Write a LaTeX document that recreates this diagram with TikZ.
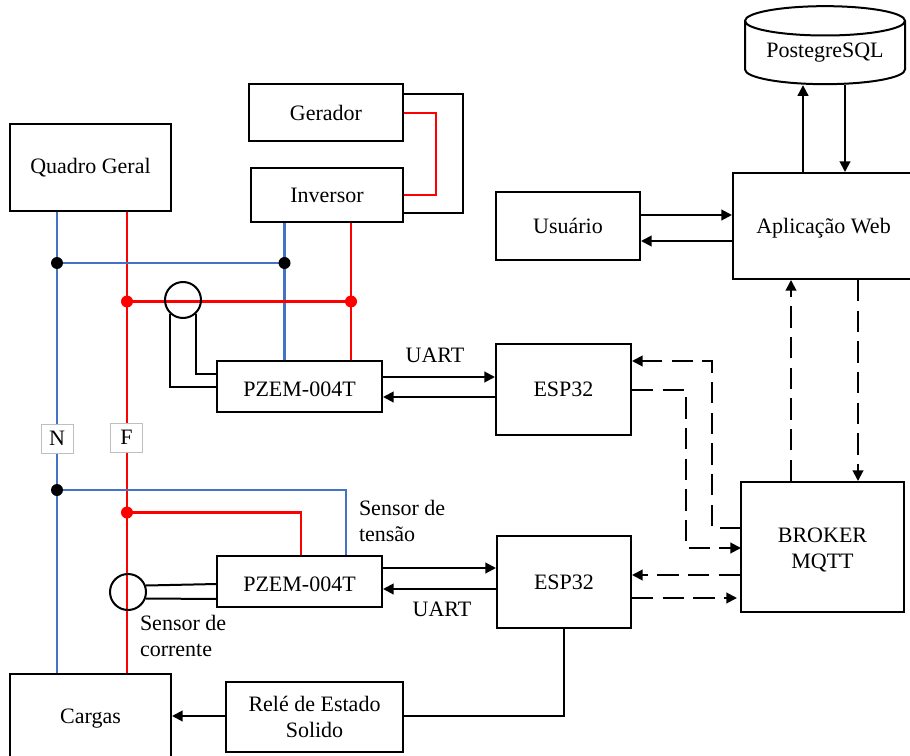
\documentclass[tikz,border=0pt]{standalone}
\usepackage{fontspec}
\setmainfont{Liberation Serif}
\definecolor{fioazul}{HTML}{4472C4}
\definecolor{fiovermelho}{HTML}{FF0000}
\usetikzlibrary{shapes, arrows.meta, calc, positioning, backgrounds}

\begin{document}
\begin{tikzpicture}[x=0.75pt, y=-0.75pt, line width=1.5pt,
    every node/.style={font=\fontsize{16.5}{20}\selectfont, align=center},
    bloco/.style={draw, inner sep=0pt},
    rotulo/.style={draw=black!25, line width=0.6pt, fill=white, inner sep=0pt, minimum width=32*.75pt, minimum height=29*.75pt},
    texto/.style={anchor=west, align=left, inner sep=0pt},
    pontoN/.style={circle, fill=black, inner sep=0pt, minimum size=12*.75pt},
    pontoF/.style={circle, fill=fiovermelho, inner sep=0pt, minimum size=12*.75pt},
    sensor/.style={circle, draw, inner sep=0pt, minimum size=36*.75pt},
    neutro/.style={draw=fioazul, line width=1.8pt},
    fase/.style={draw=fiovermelho, line width=1.6pt},
    seta/.style={-{Triangle[length=8pt, width=8pt]}},
    tracejada/.style={dash pattern=on 16pt off 7pt}]
    \useasboundingbox (0,0) rectangle (910,756);

    % Blocks, left side
    \node[bloco, minimum width=161*.75pt, minimum height=87*.75pt] (quadro) at (90.5,167.5) {Quadro Geral};
    \node[bloco, minimum width=154*.75pt, minimum height=57*.75pt] (gerador) at (326,112.5) {Gerador};
    \node[bloco, minimum width=152*.75pt, minimum height=54*.75pt] (inversor) at (327,195) {Inversor};
    \node[bloco, text height=15pt, minimum width=165*.75pt, minimum height=51*.75pt] (pzemA) at (299.5,386.5) {PZEM-004T};
    \node[bloco, text height=15pt, minimum width=165*.75pt, minimum height=51*.75pt] (pzemB) at (299.5,581.5) {PZEM-004T};
    \node[bloco, minimum width=161*.75pt, minimum height=90*.75pt] (cargas) at (90.5,719) {Cargas};
    \node[bloco, line width=1pt, minimum width=177*.75pt, minimum height=70*.75pt] (rele) at (314.5,717) {Relé de Estado\\Solido};

    % Blocks, right side
    \node[bloco, minimum width=135*.75pt, minimum height=91*.75pt] (espA) at (563.5,389.5) {ESP32};
    \node[bloco, minimum width=134*.75pt, minimum height=92*.75pt] (espB) at (564,582) {ESP32};
    \node[bloco, minimum width=144*.75pt, minimum height=68*.75pt] (usuario) at (568,226) {Usuário};
    \node[bloco, text height=15pt, minimum width=181*.75pt, minimum height=106*.75pt] (app) at (823.5,226) {Aplicação Web};
    \node[bloco, minimum width=163*.75pt, minimum height=130*.75pt] (broker) at (822.5,547) {\rule{0pt}{15.5pt}BROKER\\MQTT};
    \node[draw, shape=cylinder, shape border rotate=90, aspect=0.25, inner sep=0pt,
        minimum width=160*.75pt, minimum height=78*.75pt] (banco) at (825,53) {PostegreSQL};

    % N and F tags
    \node[rotulo] (tagN) at (57,438.5) {N};
    \node[rotulo] (tagF) at (126.5,437.5) {F};

    % Junctions and current sensors
    \node[pontoN] (jnA) at (57,263) {};
    \node[pontoN] (jnB) at (284.5,263) {};
    \node[pontoN] (jnC) at (57,490) {};
    \node[pontoF] (jfA) at (127,301.5) {};
    \node[pontoF] (jfB) at (351,301.5) {};
    \node[pontoF] (jfC) at (127,512.5) {};
    \node[sensor] (ctA) at (183,300) {};
    \node[sensor] (ctB) at (128,592) {};

    % Labels
    \node (uartA) at (435,355) {UART};
    \node (uartB) at (442,609) {UART};
    \node[texto] (tensao) at (358,521) {Sensor de\\tensão};
    \node[texto] (corrente) at (139,636) {Sensor de\\corrente};

    % Free ends of the wires
    \coordinate (pzemAa) at (217,374);
    \coordinate (pzemBa) at (217,584);
    \coordinate (pzemBb) at (217,599);
    \coordinate (cantoT) at (346,490);
    \coordinate (cantoF) at (301,512.5);
    \coordinate (gerF) at (436,113);
    \coordinate (invF) at (436,195);
    \coordinate (gerN) at (463,94);
    \coordinate (invN) at (463,213);
    \coordinate (serialAa) at (440,377);
    \coordinate (serialAb) at (440,397);
    \coordinate (serialBa) at (440,568);
    \coordinate (serialBb) at (440,589);
    \coordinate (retorno) at (564,716);
    \coordinate (bancoA) at (803,130);
    \coordinate (bancoB) at (845,130);
    \coordinate (userA) at (690,215);
    \coordinate (userB) at (690,241);
    \coordinate (mqttA) at (791,380);
    \coordinate (mqttB) at (858,380);
    \coordinate (espAa) at (712,361);
    \coordinate (espAb) at (686,390);
    \coordinate (brokerA) at (741,527.5);
    \coordinate (brokerB) at (741,548);
    \coordinate (espBa) at (690,575);
    \coordinate (espBb) at (690,598);

    \begin{scope}[on background layer={line width=1.5pt}]
        % Phase and neutral
        \draw[fase] (quadro.south -| jfA) -- (cargas.north -| jfA);
        \draw[neutro] (quadro.south -| jnA) -- (cargas.north -| jnA);
        \draw[neutro, line width=1.4pt] (jnA.center) -- (jnB.center);
        \draw[neutro] (inversor.south -| jnB) -- (pzemA.north -| jnB);
        \draw[fase] (inversor.south -| jfB) -- (pzemA.north -| jfB);
        \draw[fase] (jfA.center) -- (jfB.center);
        \draw[neutro, line width=1.4pt] (jnC.center) -- (cantoT) -- (pzemB.north -| cantoT);
        \draw[fase] (jfC.center) -- (cantoF) -- (pzemB.north -| cantoF);

        % Generator and inverter
        \draw[fase] (gerador.east |- gerF) -- (gerF) -- (invF) -- (inversor.east |- invF);
        \draw (gerador.east |- gerN) -- (gerN) -- (invN) -- (inversor.east |- invN);

        % Current sensor leads
        \draw (ctA.228) |- (pzemA.west);
        \draw (ctA.-48) |- (pzemAa);
        \draw (ctB.20) -- (pzemBa);
        \draw (ctB.-20) -- (pzemBb);
    \end{scope}

    % Serial links
    \draw[seta] (pzemA.east |- serialAa) -- (espA.west |- serialAa);
    \draw[seta] (espA.west |- serialAb) -- (pzemA.east |- serialAb);
    \draw[seta] (pzemB.east |- serialBa) -- (espB.west |- serialBa);
    \draw[seta] (espB.west |- serialBb) -- (pzemB.east |- serialBb);

    % Relay
    \draw (espB.south -| retorno) -- (retorno) -- (rele.east |- retorno);
    \draw[seta] (rele.west |- retorno) -- (cargas.east |- retorno);

    % Web application
    \draw[seta] (app.north -| bancoA) -- (banco.south -| bancoA);
    \draw[seta] (banco.south -| bancoB) -- (app.north -| bancoB);
    \draw[seta] (usuario.east |- userA) -- (app.west |- userA);
    \draw[seta] (app.west |- userB) -- (usuario.east |- userB);

    % MQTT
    \draw[seta, tracejada] (broker.north -| mqttA) -- (app.south -| mqttA);
    \draw[seta, tracejada] (app.south -| mqttB) -- (broker.north -| mqttB);
    \draw[seta, tracejada] (brokerA) -- (brokerA -| espAa) -- (espAa) -- (espA.east |- espAa);
    \draw[seta, tracejada] (espA.east |- espAb) -- (espAb) -- (espAb |- brokerB) -- (brokerB);
    \draw[seta, tracejada] (broker.west |- espBa) -- (espB.east |- espBa);
    \draw[seta, tracejada] (espB.east |- espBb) -- ($(broker.west |- espBb)+(-3,0)$);
\end{tikzpicture}
\end{document}
